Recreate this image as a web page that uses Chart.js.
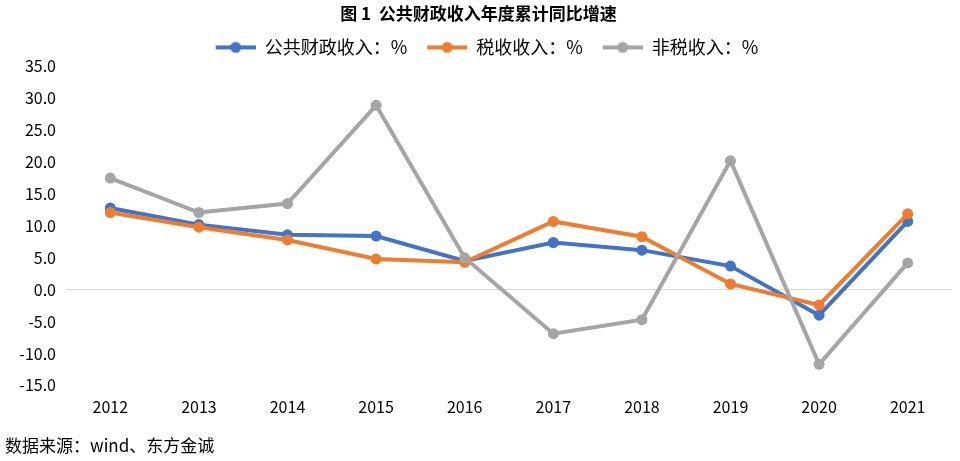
<!DOCTYPE html>
<html>
<head>
<meta charset="utf-8">
<script src="https://cdn.jsdelivr.net/npm/chart.js@4/dist/chart.umd.min.js"></script>
<style>
  html, body { margin: 0; padding: 0; background: #fff; }
  #wrap { width: 960px; height: 461px; position: relative; }
</style>
</head>
<body>
<div id="wrap"><canvas id="chart"></canvas></div>
<script>
// Chart data
const years = ['2012', '2013', '2014', '2015', '2016', '2017', '2018', '2019', '2020', '2021'];
const publicRevenue = [12.8, 10.2, 8.6, 8.4, 4.5, 7.4, 6.2, 3.7, -4.0, 10.7];
const taxRevenue = [12.1, 9.8, 7.8, 4.8, 4.3, 10.7, 8.3, 0.9, -2.4, 11.9];
const nonTaxRevenue = [17.5, 12.1, 13.5, 28.9, 5.0, -6.9, -4.7, 20.2, -11.7, 4.2];
const seriesNames = ['公共财政收入：%', '税收收入：%', '非税收入：%'];
const yTicks = { min: -15, max: 35, step: 5 };

const COLORS = ['#4472C4', '#ED7D31', '#A5A5A5'];

Chart.defaults.font.family = "'Noto Sans CJK SC', 'Noto Sans', sans-serif";
Chart.defaults.color = '#404040';

// Excel style legend marker: line with a dot in the middle
function makeMarker(color) {
    const c = document.createElement('canvas');
    c.width = 57;
    c.height = 12;
    const g = c.getContext('2d');
    g.strokeStyle = color;
    g.lineWidth = 4;
    g.beginPath();
    g.moveTo(17, 6);
    g.lineTo(57, 6);
    g.stroke();
    g.fillStyle = color;
    g.beginPath();
    g.arc(37, 6, 5.5, 0, Math.PI * 2);
    g.fill();
    return c;
}
const markers = COLORS.map(makeMarker);

function lineSeries(label, data, color, order) {
    return {
        label,
        data,
        borderColor: color,
        backgroundColor: color,
        borderWidth: 4,
        pointRadius: 5.5,
        pointHoverRadius: 5.5,
        pointBorderWidth: 0,
        tension: 0,
        order
    };
}

new Chart(document.getElementById('chart'), {
    type: 'line',
    data: {
        labels: years,
        datasets: [
            lineSeries(seriesNames[0], publicRevenue, COLORS[0], 3),
            lineSeries(seriesNames[1], taxRevenue, COLORS[1], 2),
            lineSeries(seriesNames[2], nonTaxRevenue, COLORS[2], 1)
        ]
    },
    options: {
        responsive: true,
        maintainAspectRatio: false,
        animation: false,
        layout: { padding: { left: 5, right: 8, top: 0, bottom: 0 } },
        plugins: {
            title: {
                display: true,
                text: '图 1  公共财政收入年度累计同比增速',
                color: '#000',
                font: { size: 17, weight: 'bold' },
                padding: { top: 3, bottom: 12 }
            },
            subtitle: {
                display: true,
                position: 'bottom',
                align: 'start',
                text: '数据来源：wind、东方金诚',
                color: '#000',
                font: { size: 17 },
                padding: { top: 7, bottom: 5 }
            },
            legend: {
                labels: {
                    usePointStyle: true,
                    pointStyleWidth: 57,
                    padding: 3,
                    color: '#000',
                    font: { size: 18 },
                    sort: (a, b) => a.datasetIndex - b.datasetIndex,
                    generateLabels: chart => {
                        const items = Chart.defaults.plugins.legend.labels.generateLabels(chart);
                        items.forEach(item => { item.pointStyle = markers[item.datasetIndex]; });
                        return items;
                    }
                }
            },
            tooltip: { enabled: false }
        },
        scales: {
            x: {
                offset: true,
                grid: { display: false, drawTicks: false, offset: true },
                border: { display: false },
                ticks: { padding: 12, color: '#000', font: { size: 16 } }
            },
            y: {
                min: yTicks.min,
                max: yTicks.max,
                afterFit: scale => { scale.width = 61; },
                border: { display: false },
                grid: {
                    drawTicks: false,
                    color: ctx => (ctx.tick && ctx.tick.value === 0 ? '#D9D9D9' : 'rgba(0,0,0,0)'),
                    lineWidth: 1
                },
                ticks: {
                    stepSize: yTicks.step,
                    padding: 10,
                    color: '#000',
                    font: { size: 16 },
                    callback: value => value.toFixed(1)
                }
            }
        }
    }
});
</script>
</body>
</html>
